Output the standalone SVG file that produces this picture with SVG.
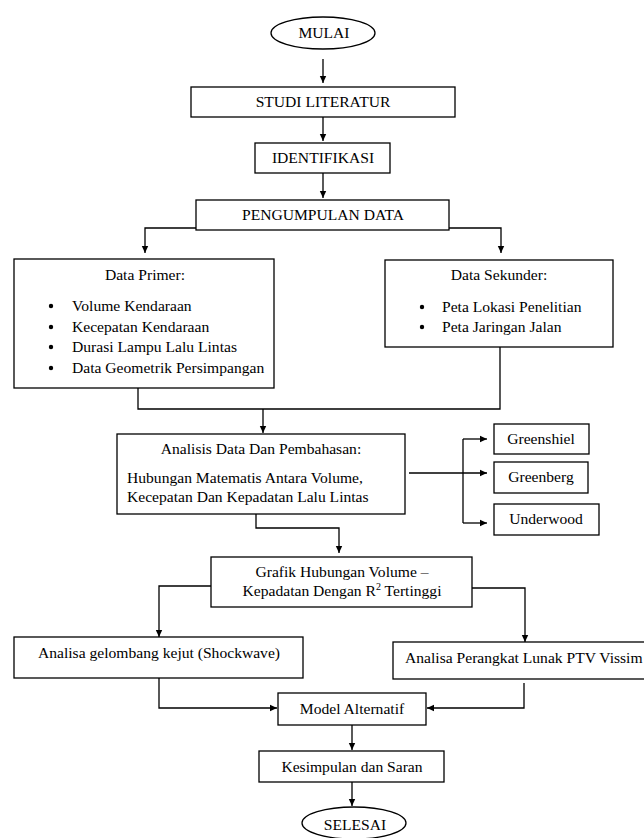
<svg xmlns="http://www.w3.org/2000/svg" width="644" height="838" viewBox="0 0 644 838">
<defs>
<marker id="ah" markerWidth="8" markerHeight="8" refX="7" refY="4" orient="auto" markerUnits="userSpaceOnUse">
<path d="M0,0.8 L7,4 L0,7.2 Z" fill="#000"/>
</marker>
<style>
text{font-family:"Liberation Serif","Times New Roman",serif;font-size:15.6px;fill:#000}
.c{text-anchor:middle}
.n{fill:#fff;stroke:#000;stroke-width:1.3}
.e{fill:none;stroke:#000;stroke-width:1.3;marker-end:url(#ah)}
.l{fill:none;stroke:#000;stroke-width:1.3}
</style>
</defs>
<rect width="644" height="838" fill="#fff"/>
<g id="connectors">
<path class="e" d="M323,59 V83"/>
<path class="e" d="M323,117 V141"/>
<path class="e" d="M323,173 V198"/>
<path class="e" d="M196,228 H145 V253"/>
<path class="e" d="M449,228 H501 V253"/>
<path class="l" d="M138,388 V409 H500 V347"/>
<path class="e" d="M263,409 V433"/>
<path class="e" d="M409,473 H487"/>
<path class="l" d="M463,439 V523"/>
<path class="e" d="M463,439 H487"/>
<path class="e" d="M463,523 H487"/>
<path class="e" d="M256,514 V528 H339 V553"/>
<path class="e" d="M211,586 H159 V637"/>
<path class="e" d="M472,588 H525 V642"/>
<path class="e" d="M159,678 V708 H277"/>
<path class="e" d="M524,683 V708 H427"/>
<path class="e" d="M352,725 V750"/>
<path class="e" d="M352,782 V806"/>
</g>
<g id="mulai">
<ellipse class="n" cx="323" cy="33" rx="52" ry="16"/>
<text class="c" x="324" y="38">MULAI</text>
</g>
<g id="studi">
<rect class="n" x="191" y="87" width="264" height="30"/>
<text class="c" x="323" y="107">STUDI LITERATUR</text>
</g>
<g id="identifikasi">
<rect class="n" x="255" y="143" width="135" height="30"/>
<text class="c" x="323" y="163">IDENTIFIKASI</text>
</g>
<g id="pengumpulan">
<rect class="n" x="196" y="200" width="253" height="30"/>
<text class="c" x="323" y="220">PENGUMPULAN DATA</text>
</g>
<g id="primer">
<rect class="n" x="14" y="259" width="260" height="129"/>
<text class="c" x="145" y="280">Data Primer:</text>
<circle cx="51" cy="306" r="2.2"/>
<circle cx="51" cy="327" r="2.2"/>
<circle cx="51" cy="347" r="2.2"/>
<circle cx="51" cy="368" r="2.2"/>
<text x="72" y="311">Volume Kendaraan</text>
<text x="72" y="332">Kecepatan Kendaraan</text>
<text x="72" y="352">Durasi Lampu Lalu Lintas</text>
<text x="72" y="373">Data Geometrik Persimpangan</text>
</g>
<g id="sekunder">
<rect class="n" x="385" y="260" width="228" height="87"/>
<text class="c" x="499" y="280">Data Sekunder:</text>
<circle cx="422" cy="307" r="2.2"/>
<circle cx="422" cy="327" r="2.2"/>
<text x="442" y="312">Peta Lokasi Penelitian</text>
<text x="442" y="332">Peta Jaringan Jalan</text>
</g>
<g id="analisis">
<rect class="n" x="117" y="434" width="288" height="80"/>
<text class="c" x="261" y="454">Analisis Data Dan Pembahasan:</text>
<text x="127" y="483">Hubungan Matematis Antara Volume,</text>
<text x="127" y="502">Kecepatan Dan Kepadatan Lalu Lintas</text>
</g>
<g id="greenshiel">
<rect class="n" x="494" y="424" width="95" height="30"/>
<text class="c" x="541" y="444">Greenshiel</text>
</g>
<g id="greenberg">
<rect class="n" x="494" y="462" width="94" height="31"/>
<text class="c" x="541" y="482">Greenberg</text>
</g>
<g id="underwood">
<rect class="n" x="494" y="504" width="105" height="31"/>
<text class="c" x="546" y="524">Underwood</text>
</g>
<g id="grafik">
<rect class="n" x="211" y="557" width="261" height="50"/>
<text class="c" x="342" y="577">Grafik Hubungan Volume –</text>
<text class="c" x="342" y="596">Kepadatan Dengan R<tspan font-size="10" dy="-6">2</tspan><tspan dy="6"> Tertinggi</tspan></text>
</g>
<g id="shockwave">
<rect class="n" x="14" y="637" width="289" height="41"/>
<text class="c" x="159" y="658">Analisa gelombang kejut (Shockwave)</text>
</g>
<g id="ptv">
<rect class="n" x="393" y="642" width="260" height="37"/>
<text x="405" y="663">Analisa Perangkat Lunak PTV Vissim</text>
</g>
<g id="model">
<rect class="n" x="278" y="693" width="148" height="32"/>
<text class="c" x="352" y="714">Model Alternatif</text>
</g>
<g id="kesimpulan">
<rect class="n" x="259" y="751" width="185" height="31"/>
<text class="c" x="352" y="772">Kesimpulan dan Saran</text>
</g>
<g id="selesai">
<ellipse class="n" cx="354" cy="823" rx="52" ry="16"/>
<text class="c" x="355" y="830">SELESAI</text>
</g>
</svg>
